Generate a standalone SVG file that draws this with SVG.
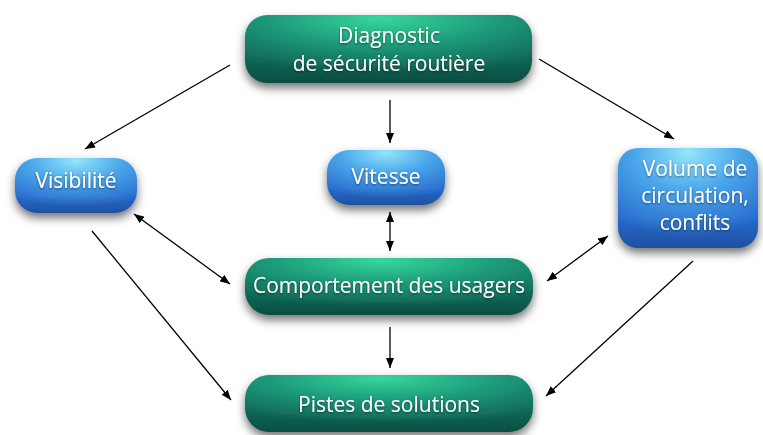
<svg xmlns="http://www.w3.org/2000/svg" width="763" height="435" viewBox="0 0 763 435">
<style>
.t{font-family:"Open Sans","Liberation Sans",sans-serif;font-size:21px;fill:#ffffff;text-anchor:middle}
.c{stroke:#000;stroke-width:1.3;fill:none}
</style>
<defs>
<radialGradient id="gg" cx="0.5" cy="0.05" r="0.8" fx="0.47" fy="0.05">
<stop offset="0" stop-color="#36d79c"/>
<stop offset="0.5" stop-color="#1d9a7a"/>
<stop offset="1" stop-color="#0f6353"/>
</radialGradient>
<radialGradient id="bg" cx="0.5" cy="0.05" r="0.85" fx="0.5" fy="0.05">
<stop offset="0" stop-color="#93e6fb"/>
<stop offset="0.45" stop-color="#4aa6ea"/>
<stop offset="1" stop-color="#2668cc"/>
</radialGradient>
<linearGradient id="shade" x1="0" y1="0" x2="0" y2="1">
<stop offset="0" stop-color="#000" stop-opacity="0"/>
<stop offset="0.7" stop-color="#000" stop-opacity="0"/>
<stop offset="1" stop-color="#000" stop-opacity="0.22"/>
</linearGradient>
<filter id="sh" x="-20%" y="-30%" width="140%" height="170%">
<feDropShadow dx="0" dy="5" stdDeviation="5" flood-color="#000" flood-opacity="0.55"/>
</filter>
<filter id="ts" x="-10%" y="-30%" width="120%" height="160%">
<feDropShadow dx="0" dy="1" stdDeviation="1" flood-color="#000" flood-opacity="0.5"/>
</filter>
<marker id="ah" viewBox="0 0 10 8" refX="10" refY="4" markerWidth="10" markerHeight="8" markerUnits="userSpaceOnUse" orient="auto-start-reverse">
<path d="M0,0 L10,4 L0,8 Z" fill="#000"/>
</marker>
</defs>
<g id="connectors">
<line class="c" x1="230" y1="65" x2="85" y2="149" marker-end="url(#ah)"/>
<line class="c" x1="390" y1="100" x2="390" y2="143" marker-end="url(#ah)"/>
<line class="c" x1="539" y1="59" x2="674" y2="139" marker-end="url(#ah)"/>
<line class="c" x1="134" y1="214" x2="230" y2="284" marker-start="url(#ah)" marker-end="url(#ah)"/>
<line class="c" x1="390" y1="212" x2="390" y2="251" marker-start="url(#ah)" marker-end="url(#ah)"/>
<line class="c" x1="608" y1="236" x2="547" y2="281" marker-start="url(#ah)" marker-end="url(#ah)"/>
<line class="c" x1="390" y1="327" x2="390" y2="368" marker-end="url(#ah)"/>
<line class="c" x1="92" y1="231" x2="231" y2="400" marker-end="url(#ah)"/>
<line class="c" x1="693" y1="261" x2="546" y2="396" marker-end="url(#ah)"/>
</g>
<g id="diagnostic">
<rect x="245" y="15" width="287" height="68" rx="22" fill="url(#gg)" filter="url(#sh)"/>
<rect x="245" y="15" width="287" height="68" rx="22" fill="url(#shade)"/>
<text class="t" x="389" y="43" filter="url(#ts)">Diagnostic</text>
<text class="t" x="389" y="71" filter="url(#ts)">de sécurité routière</text>
</g>
<g id="visibilite">
<rect x="15" y="158" width="122" height="55" rx="22" fill="url(#bg)" filter="url(#sh)"/>
<rect x="15" y="158" width="122" height="55" rx="22" fill="url(#shade)"/>
<text class="t" x="76" y="188" filter="url(#ts)">Visibilité</text>
</g>
<g id="vitesse">
<rect x="327" y="150" width="118" height="55" rx="22" fill="url(#bg)" filter="url(#sh)"/>
<rect x="327" y="150" width="118" height="55" rx="22" fill="url(#shade)"/>
<text class="t" x="386" y="184" filter="url(#ts)">Vitesse</text>
</g>
<g id="volume">
<rect x="618" y="148" width="140" height="100" rx="20" fill="url(#bg)" filter="url(#sh)"/>
<rect x="618" y="148" width="140" height="100" rx="20" fill="url(#shade)"/>
<text class="t" x="695" y="176" filter="url(#ts)">Volume de</text>
<text class="t" x="695" y="203" filter="url(#ts)">circulation,</text>
<text class="t" x="695" y="230" filter="url(#ts)">conflits</text>
</g>
<g id="comportement">
<rect x="245" y="258" width="288" height="57" rx="24" fill="url(#gg)" filter="url(#sh)"/>
<rect x="245" y="258" width="288" height="57" rx="24" fill="url(#shade)"/>
<text class="t" x="389" y="293" filter="url(#ts)">Comportement des usagers</text>
</g>
<g id="pistes">
<rect x="245" y="375" width="288" height="57" rx="24" fill="url(#gg)" filter="url(#sh)"/>
<rect x="245" y="375" width="288" height="57" rx="24" fill="url(#shade)"/>
<text class="t" x="389" y="412" filter="url(#ts)">Pistes de solutions</text>
</g>
</svg>
